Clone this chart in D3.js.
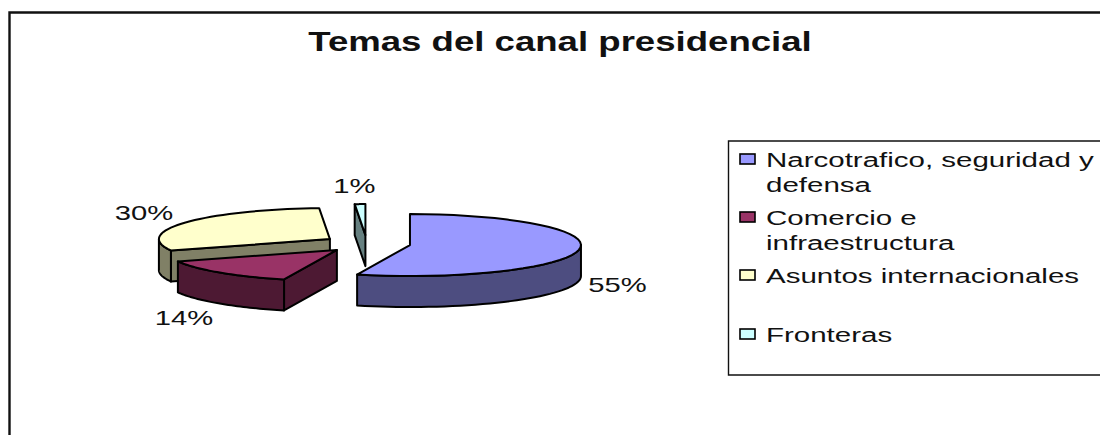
<!DOCTYPE html>
<html>
<head>
<meta charset="utf-8">
<script src="https://cdn.jsdelivr.net/npm/d3@7/dist/d3.min.js"></script>
<style>
  html, body { margin: 0; padding: 0; background: #fff; }
  svg { display: block; font-family: "Liberation Sans", Arial, sans-serif; }
</style>
</head>
<body>
<svg id="chart" width="1100" height="435"></svg>
<script>
// Data
const chartTitle = "Temas del canal presidencial";
const categories = ["Narcotrafico, seguridad y defensa", "Comercio e infraestructura", "Asuntos internacionales", "Fronteras"];
const shares = [55, 14, 30, 1];
const legendLines = [["Narcotrafico, seguridad y", "defensa"], ["Comercio e", "infraestructura"], ["Asuntos internacionales"], ["Fronteras"]];
const topColors = ["#9999ff", "#993366", "#ffffcc", "#ccffff"];
const wallColors = ["#4d4d80", "#4d1933", "#808066", "#668080"];

// Layout
const cx = 366.8, cy = 243.7;
const rx = 171, ry = 31, depth = 31;
const explodeX = 43.7, explodeY = 8.6;
const legendStretch = 1.475; // the source picture is wider than it is tall
const labelStretch = 1.39;

const svg = d3.select("#chart");

// Frame of the chart area, runs off the right and bottom of the picture
svg.append("path")
  .attr("d", "M1100,12.5H9.5V435")
  .attr("fill", "none").attr("stroke", "#111").attr("stroke-width", 2.4);

svg.append("text")
  .attr("transform", "translate(560,51) scale(1.355,1)")
  .attr("text-anchor", "middle")
  .attr("font-size", 27).attr("font-weight", "bold")
  .attr("fill", "#111")
  .text(chartTitle);

// Slices, clockwise from 12 o'clock like the source
const slices = d3.pie().sort(null)(shares).map((d, i) => {
  const mid = (d.startAngle + d.endAngle) / 2;
  return {
    i,
    a0: d.startAngle,
    a1: d.endAngle,
    ox: cx + explodeX * Math.sin(mid),
    oy: cy - explodeY * Math.cos(mid),
  };
});

const line = d3.line();
const rim = (s, a) => [s.ox + rx * Math.sin(a), s.oy - ry * Math.cos(a)];
const arcPoints = (s, a0, a1) => d3.range(0, 41).map((k) => rim(s, a0 + ((a1 - a0) * k) / 40));
const down = (pts) => pts.map((p) => [p[0], p[1] + depth]).reverse();

function drawFace(pts, fill) {
  svg.append("path")
    .attr("d", line(pts) + "Z")
    .attr("fill", fill)
    .attr("stroke", "#000")
    .attr("stroke-width", 2)
    .attr("stroke-linejoin", "round");
}

function drawSlice(s) {
  const wall = wallColors[s.i];
  const centre = [s.ox, s.oy];

  // radial faces, only the ones looking towards us
  [s.a0 > Math.PI ? s.a0 : null, s.a1 < Math.PI ? s.a1 : null].forEach((a) => {
    if (a === null) return;
    const p = rim(s, a);
    drawFace([centre, p, [p[0], p[1] + depth], [s.ox, s.oy + depth]], wall);
  });

  // outer wall, the part on the front half of the ellipse
  const f0 = Math.max(s.a0, Math.PI / 2);
  const f1 = Math.min(s.a1, (3 * Math.PI) / 2);
  if (f1 > f0) {
    const front = arcPoints(s, f0, f1);
    drawFace(front.concat(down(front)), wall);
  }

  drawFace([centre].concat(arcPoints(s, s.a0, s.a1)), topColors[s.i]);
}

// painter's order: back slices first
[2, 3, 1, 0].forEach((i) => drawSlice(slices[i]));

// Percent labels, offset from each slice's origin
const labelDx = [207.5, -153, -186, -11];
const labelDy = [47, 75.5, -19, -42];
slices.forEach((s) => {
  svg.append("text")
    .attr("transform", `translate(${s.ox + labelDx[s.i]},${s.oy + labelDy[s.i]}) scale(${labelStretch},1)`)
    .attr("text-anchor", "middle")
    .attr("font-size", 21)
    .attr("fill", "#111")
    .text(shares[s.i] + "%");
});

// Legend
svg.append("path")
  .attr("d", "M1100,141H728.5V375H1100")
  .attr("fill", "none").attr("stroke", "#111").attr("stroke-width", 1.4);

const legendBaseline = [167, 225, 283, 342];
const legend = svg.selectAll("g.legend-item")
  .data(categories)
  .join("g")
  .attr("class", "legend-item");

legend.append("rect")
  .attr("x", 740).attr("y", (d, i) => legendBaseline[i] - 13)
  .attr("width", 15).attr("height", 10)
  .attr("fill", (d, i) => topColors[i])
  .attr("stroke", "#000").attr("stroke-width", 1.6);

legend.each(function (d, i) {
  d3.select(this).selectAll("text")
    .data(legendLines[i])
    .join("text")
    .attr("transform", (t, j) => `translate(766,${legendBaseline[i] + j * 25}) scale(${legendStretch},1)`)
    .attr("font-size", 20)
    .attr("fill", "#111")
    .text((t) => t);
});
</script>
</body>
</html>
